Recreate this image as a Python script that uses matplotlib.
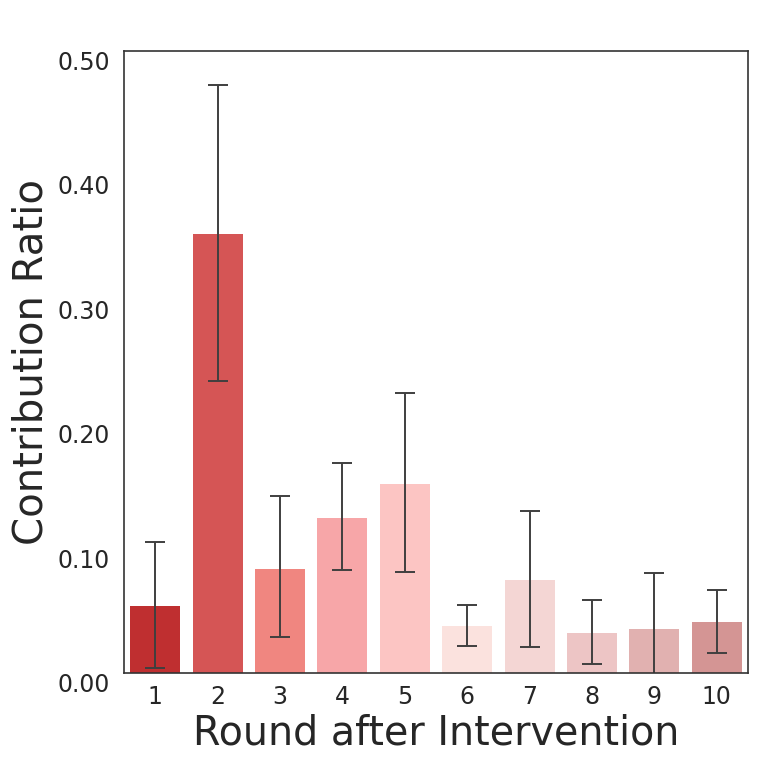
import matplotlib
matplotlib.use("Agg")
import matplotlib.pyplot as plt
import numpy as np

rounds = ['1', '2', '3', '4', '5', '6', '7', '8', '9', '10']
ratio = [0.054, 0.353, 0.084, 0.125, 0.152, 0.038, 0.075, 0.032, 0.035, 0.041]
err_low = [0.004, 0.235, 0.029, 0.0825, 0.081, 0.022, 0.021, 0.007, -0.01, 0.016]
err_high = [0.105, 0.473, 0.142, 0.169, 0.225, 0.055, 0.1305, 0.0587, 0.0804, 0.0667]
colors = ['#bf2f30', '#d55555', '#f08680', '#f7a6a8', '#fcc5c3',
          '#fbe2de', '#f4d6d4', '#edc5c5', '#e1b1b0', '#d49594']
yticks = [0.0, 0.1, 0.2, 0.3, 0.4, 0.5]

ratio = np.array(ratio)
yerr = [ratio - np.array(err_low), np.array(err_high) - ratio]

fig = plt.figure(figsize=(7.61, 7.67), dpi=100)
ax = fig.add_axes([124 / 761, 94 / 767, 624 / 761, 622 / 767])

x = np.arange(len(rounds))
ax.bar(x, ratio, width=0.8, color=colors, yerr=yerr,
       error_kw=dict(ecolor='#3f3f3f', elinewidth=1.4, capsize=7, capthick=1.4))

ax.set_xlim(-0.5, 9.5)
ax.set_ylim(0, 0.5)
ax.set_xticks(x)
ax.set_xticklabels(rounds)
ax.set_yticks(yticks)
ax.set_yticklabels(['%.2f' % t for t in yticks])
for lab in ax.get_yticklabels():
    lab.set_va('top')

ax.tick_params(axis='both', length=0, labelsize=17, labelcolor='#262626')
ax.tick_params(axis='x', pad=9)
ax.tick_params(axis='y', pad=10)
for s in ax.spines.values():
    s.set_color('#333333')
    s.set_linewidth(1.2)

ax.set_xlabel('Round after Intervention', fontsize=28.5, color='#262626', labelpad=3)
ax.set_ylabel('Contribution Ratio', fontsize=29, color='#262626', labelpad=4)

fig.savefig('out.png', dpi=100)
